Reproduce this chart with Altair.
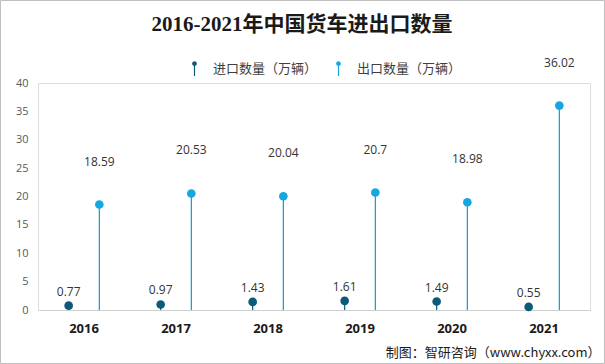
import altair as alt
import pandas as pd

years = ["2016", "2017", "2018", "2019", "2020", "2021"]
imports = [0.77, 0.97, 1.43, 1.61, 1.49, 0.55]
exports = [18.59, 20.53, 20.04, 20.7, 18.98, 36.02]
series_names = ["进口数量（万辆）", "出口数量（万辆）"]
colors = ["#0b5a78", "#17a7e0"]
stem_colors = ["#0b5a78", "#1b93cc"]

rows = []
for y, a, b in zip(years, imports, exports):
    rows.append({"year": y, "series": series_names[0], "value": a, "label": f"{a:g}"})
    rows.append({"year": y, "series": series_names[1], "value": b, "label": f"{b:g}"})
df = pd.DataFrame(rows)

W, H = 552, 227

x_enc = alt.X("year:N", scale=alt.Scale(paddingInner=0, paddingOuter=0),
              axis=alt.Axis(title="制图：智研咨询（www.chyxx.com）", titleAnchor="end",
                            titleAlign="right", titleX=W + 10, titleY=36,
                            titleFontSize=13, titleFontWeight="normal", titleColor="#1a1a1a",
                            titleFont="Noto Sans CJK SC",
                            labelAngle=0, labelFontWeight="bold", labelFontSize=13,
                            labelColor="#1a1a1a", labelFont="Open Sans", labelPadding=12,
                            ticks=False, domainColor="#d0d0d0", domainWidth=1))
xo_enc = alt.XOffset("series:N", scale=alt.Scale(type="point", domain=series_names, padding=1.2037))
y_enc = alt.Y("value:Q", scale=alt.Scale(domain=[0, 40]),
              axis=alt.Axis(title=None, values=[0, 5, 10, 15, 20, 25, 30, 35, 40],
                            grid=False, ticks=False, domain=False, labelColor="#595959",
                            labelFontSize=11, labelFont="Open Sans", labelPadding=10))

color_scale = alt.Scale(domain=series_names, range=colors)

base = alt.Chart(df)

stems_imp = base.transform_filter(alt.datum.series == series_names[0]).mark_rule(
    strokeWidth=1.2, color=stem_colors[0]).encode(
    x=x_enc, xOffset=xo_enc, y=y_enc, y2=alt.datum(0))
stems_exp = base.transform_filter(alt.datum.series == series_names[1]).mark_rule(
    strokeWidth=1.2, color=stem_colors[1]).encode(
    x=x_enc, xOffset=xo_enc, y=y_enc, y2=alt.datum(0))

pin = "M-0.32,-0.68 A0.32,0.32 0 1 1 0.32,-0.68 A0.32,0.32 0 1 1 -0.32,-0.68 Z M-0.08,-0.68 L0.08,-0.68 L0.08,1 L-0.08,1 Z"

dots = base.mark_circle(opacity=1, size=75).encode(
    x=x_enc, xOffset=xo_enc, y=y_enc,
    color=alt.Color("series:N", scale=color_scale,
                    legend=alt.Legend(title=None, orient="none", direction="horizontal",
                                      legendX=148, legendY=-23, symbolType=pin,
                                      symbolSize=220, labelFontSize=13,
                                      labelFont="Noto Sans CJK SC", labelColor="#404040",
                                      labelOffset=10, columnPadding=12, padding=0,
                                      symbolOpacity=1)),
)

lab_imp = base.transform_filter(alt.datum.series == series_names[0]).mark_text(
    dy=-14, fontSize=12, font="Open Sans", color="#333333").encode(
    x=x_enc, xOffset=xo_enc, y=y_enc, text="label:N")
lab_exp = base.transform_filter(alt.datum.series == series_names[1]).mark_text(
    dy=-43, fontSize=12, font="Open Sans", color="#333333").encode(
    x=x_enc, xOffset=xo_enc, y=y_enc, text="label:N")

border = alt.Chart(pd.DataFrame({"a": [0]})).mark_rect(
    fill=None, stroke="#bfbfbf", strokeWidth=1).encode(
    x=alt.value(-37.5), x2=alt.value(566.5), y=alt.value(-82.5), y2=alt.value(280.5))

chart = alt.layer(stems_imp, stems_exp, dots, lab_imp, lab_exp, border).properties(
    width=W, height=H,
    title=alt.TitleParams("2016-2021年中国货车进出口数量", fontSize=21,
                          font="Liberation Serif, Noto Sans CJK SC", fontWeight="bold",
                          color="#1a1a1a", anchor="middle", dx=-12, offset=-35),
    autosize=alt.AutoSizeParams(type="none"),
    padding={"left": 38, "top": 83, "right": 15, "bottom": 54},
).configure_view(stroke=None).configure(background="white")

chart.save("out.html", embed_options={"renderer": "svg", "actions": False})
